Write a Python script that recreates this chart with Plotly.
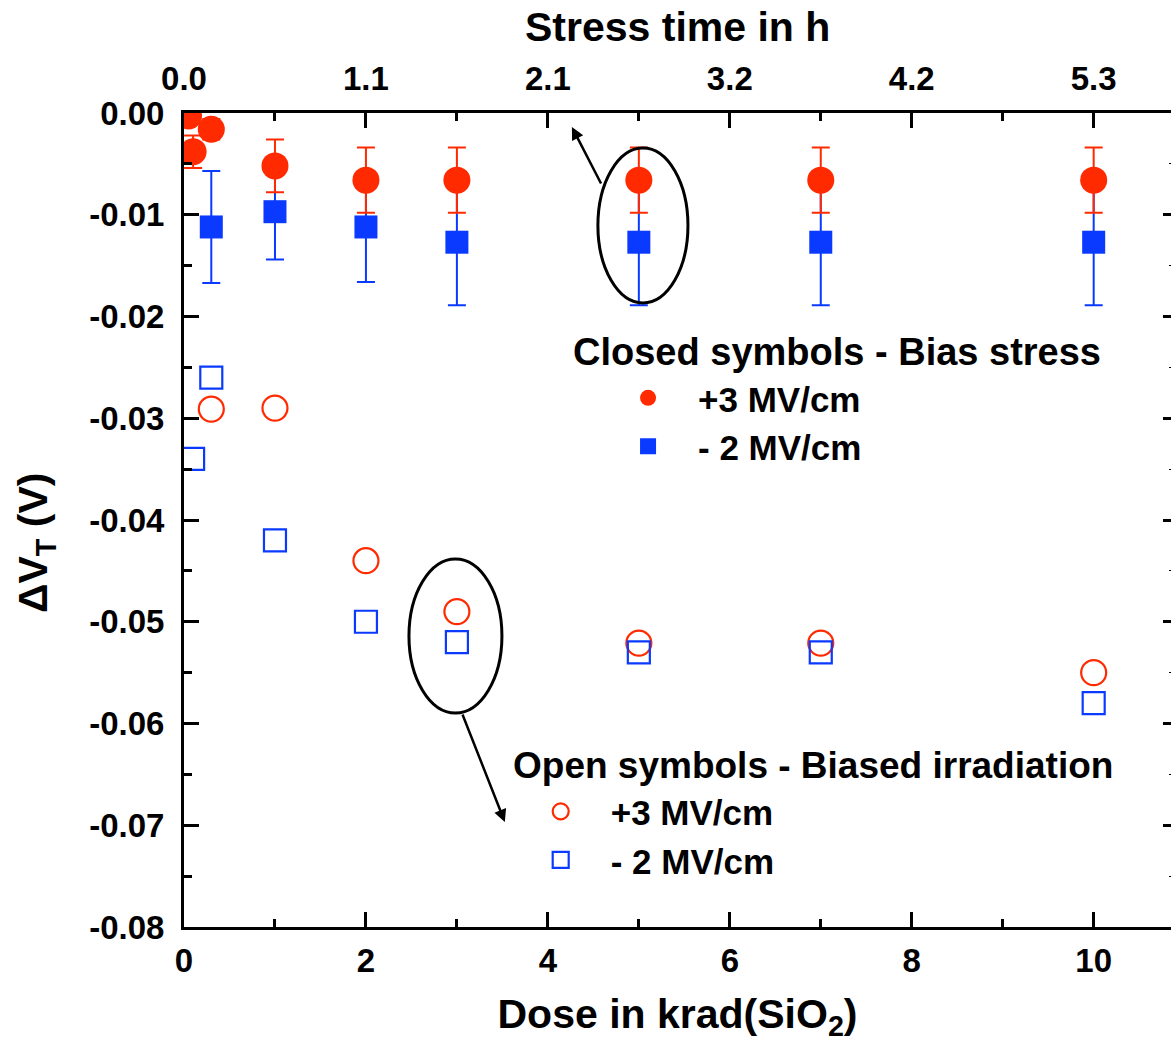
import plotly.graph_objects as go

# Dose points (krad(SiO2)) and threshold-voltage shifts (V)
bias_pos_dose = [0.05, 0.1, 0.3, 1, 2, 3, 5, 7, 10]
bias_pos_dvt = [-0.0003, -0.0038, -0.0016, -0.0052, -0.0066, -0.0066, -0.0066, -0.0066, -0.0066]
bias_pos_err = [0.0003, 0.0016, 0.0010, 0.0026, 0.0032, 0.0032, 0.0032, 0.0032, 0.0032]

bias_neg_dose = [0.05, 0.3, 1, 2, 3, 5, 7, 10]
bias_neg_dvt = [0.0, -0.0112, -0.0097, -0.0112, -0.0127, -0.0127, -0.0127, -0.0127]
bias_neg_err = [0.0, 0.0055, 0.0047, 0.0054, 0.0062, 0.0062, 0.0062, 0.0062]

irr_pos_dose = [0.3, 1, 2, 3, 5, 7, 10]
irr_pos_dvt = [-0.0291, -0.0290, -0.0440, -0.0490, -0.0521, -0.0521, -0.0550]

irr_neg_dose = [0.1, 0.3, 1, 2, 3, 5, 7, 10]
irr_neg_dvt = [-0.0340, -0.0260, -0.0420, -0.0500, -0.0520, -0.0530, -0.0530, -0.0580]

# Axis ticks
dose_ticks = [0, 2, 4, 6, 8, 10]
dose_labels = ["0", "2", "4", "6", "8", "10"]
time_labels = ["0.0", "1.1", "2.1", "3.2", "4.2", "5.3"]
dvt_ticks = [0.0, -0.01, -0.02, -0.03, -0.04, -0.05, -0.06, -0.07, -0.08]
dvt_labels = ["0.00", "-0.01", "-0.02", "-0.03", "-0.04", "-0.05", "-0.06", "-0.07", "-0.08"]

RED = "#FF2A00"
BLUE = "#0A3AFF"
FONT = "Arial, Liberation Sans, sans-serif"
X_MAX = 10.85

fig = go.Figure()

# Closed symbols: bias stress (blue first so red error bars sit on top)
fig.add_trace(go.Scatter(
    x=bias_neg_dose, y=bias_neg_dvt, mode="markers", name="- 2 MV/cm",
    legend="legend",
    marker=dict(symbol="square", size=23, color=BLUE),
    error_y=dict(type="data", array=bias_neg_err, color=BLUE, thickness=2, width=9),
))
fig.add_trace(go.Scatter(
    x=bias_pos_dose, y=bias_pos_dvt, mode="markers", name="+3 MV/cm",
    legend="legend",
    marker=dict(symbol="circle", size=27, color=RED),
    error_y=dict(type="data", array=bias_pos_err, color=RED, thickness=2, width=9),
))

# Open symbols: biased irradiation
fig.add_trace(go.Scatter(
    x=irr_pos_dose, y=irr_pos_dvt, mode="markers", name="+3 MV/cm",
    legend="legend2",
    marker=dict(symbol="circle-open", size=25, color=RED, line=dict(width=2.2, color=RED)),
))
fig.add_trace(go.Scatter(
    x=irr_neg_dose, y=irr_neg_dvt, mode="markers", name="- 2 MV/cm",
    legend="legend2",
    marker=dict(symbol="square-open", size=22, color=BLUE, line=dict(width=2.2, color=BLUE)),
))

# Invisible trace carrying the top (stress time) axis
fig.add_trace(go.Scatter(x=[0, X_MAX], y=[0, 0], xaxis="x2", mode="markers",
                         marker=dict(opacity=0), showlegend=False, hoverinfo="skip"))
# Invisible trace carrying the right-hand tick axis
fig.add_trace(go.Scatter(x=[0], y=[0], yaxis="y2", mode="markers",
                         marker=dict(opacity=0), showlegend=False, hoverinfo="skip"))

tick_font = dict(family=FONT, size=33, color="black", weight="bold")
title_font = dict(family=FONT, size=41, color="black", weight="bold")
legend_font = dict(family=FONT, size=35, color="black", weight="bold")
header_font = dict(family=FONT, size=38, color="black", weight="bold")
header2_font = dict(family=FONT, size=37, color="black", weight="bold")

common_x = dict(
    range=[0, X_MAX], showline=True, linewidth=3, linecolor="black",
    ticks="inside", ticklen=15, tickwidth=3, tickcolor="black",
    showgrid=False, zeroline=False, tickfont=tick_font,
    minor=dict(dtick=1, tick0=0, ticks="inside", ticklen=8, tickwidth=3, tickcolor="black", showgrid=False),
)

fig.update_layout(
    width=1171, height=1045,
    margin=dict(l=184, r=0, t=113, b=118),
    paper_bgcolor="white", plot_bgcolor="white",
    font=dict(family=FONT, color="black"),
    xaxis=dict(
        **common_x, tickvals=dose_ticks, ticktext=dose_labels, ticklabelstandoff=2,
        title=dict(text="Dose in krad(SiO<sub>2</sub>)", font=title_font, standoff=22),
    ),
    xaxis2=dict(
        **common_x, overlaying="x", side="top", anchor="y",
        tickvals=dose_ticks, ticktext=time_labels, ticklabelstandoff=7,
    ),
    yaxis=dict(
        range=[-0.08, 0], showline=True, linewidth=3, linecolor="black",
        ticks="inside", ticklen=15, tickwidth=3, tickcolor="black",
        tickvals=dvt_ticks, ticktext=dvt_labels, tickfont=tick_font,
        ticklabelstandoff=10,
        showgrid=False, zeroline=False,
        minor=dict(dtick=0.005, tick0=0, ticks="inside", ticklen=8, tickwidth=3, tickcolor="black", showgrid=False),
    ),
    yaxis2=dict(
        range=[-0.08, 0], overlaying="y", side="right", anchor="x",
        showline=False, showticklabels=False, showgrid=False, zeroline=False,
        ticks="inside", ticklen=8, tickwidth=3, tickcolor="black", tickvals=dvt_ticks,
        minor=dict(dtick=0.005, tick0=0, ticks="inside", ticklen=2, tickwidth=1, tickcolor="black", showgrid=False),
    ),
    legend=dict(
        x=0.4195, y=0.686, xanchor="left", yanchor="top", itemwidth=90,
        bgcolor="rgba(0,0,0,0)", font=legend_font, itemsizing="trace",
        traceorder="reversed",
    ),
    legend2=dict(
        x=0.331, y=0.178, xanchor="left", yanchor="top", itemwidth=90,
        bgcolor="rgba(0,0,0,0)", font=legend_font, itemsizing="trace",
    ),
    showlegend=True,
)

# Top-axis title
fig.add_annotation(text="Stress time in h", xref="paper", yref="paper",
                   x=0.5, y=1.1057, xanchor="center", yanchor="middle",
                   showarrow=False, font=title_font)

# Y-axis title
fig.add_annotation(text="ΔV<sub>T</sub> (V)", xref="paper", yref="paper",
                   x=-0.15, y=0.4717, xanchor="center", yanchor="middle",
                   textangle=-90, showarrow=False, font=title_font)

# Legend headers
fig.add_annotation(text="Closed symbols - Bias stress", xref="paper", yref="paper",
                   x=0.392, y=0.7064, xanchor="left", yanchor="middle", showarrow=False,
                   font=header_font)
fig.add_annotation(text="Open symbols - Biased irradiation", xref="paper", yref="paper",
                   x=0.331, y=0.199, xanchor="left", yanchor="middle", showarrow=False,
                   font=header2_font)

# Ellipses marking the two groups and arrows to their axes
fig.add_shape(type="circle", xref="x", yref="y", x0=4.55, x1=5.54, y0=-0.00344, y1=-0.01867,
              line=dict(color="black", width=3))
fig.add_shape(type="circle", xref="x", yref="y", x0=2.473, x1=3.495, y0=-0.04383, y1=-0.05897,
              line=dict(color="black", width=3))
fig.add_annotation(x=4.264, y=-0.00138, ax=4.593, ay=-0.00708, xref="x", yref="y",
                   axref="x", ayref="y", showarrow=True, arrowhead=2, arrowsize=1,
                   arrowwidth=2.5, arrowcolor="black", text="")
fig.add_annotation(x=3.527, y=-0.06968, ax=3.055, ay=-0.05897, xref="x", yref="y",
                   axref="x", ayref="y", showarrow=True, arrowhead=2, arrowsize=1,
                   arrowwidth=2.5, arrowcolor="black", text="")

fig.write_html("out.html")
